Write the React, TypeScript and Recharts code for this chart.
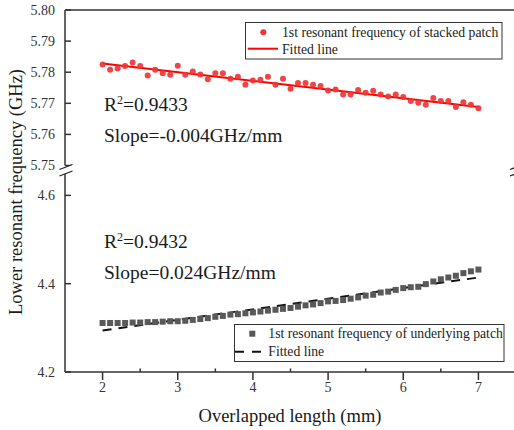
import React from 'react';
import { ComposedChart, Scatter, Line, XAxis, YAxis, ReferenceLine, Legend } from 'recharts';

const overlapMm = [
  2.0, 2.1, 2.2, 2.3, 2.4, 2.5, 2.6, 2.7, 2.8, 2.9,
  3.0, 3.1, 3.2, 3.3, 3.4, 3.5, 3.6, 3.7, 3.8, 3.9,
  4.0, 4.1, 4.2, 4.3, 4.4, 4.5, 4.6, 4.7, 4.8, 4.9,
  5.0, 5.1, 5.2, 5.3, 5.4, 5.5, 5.6, 5.7, 5.8, 5.9,
  6.0, 6.1, 6.2, 6.3, 6.4, 6.5, 6.6, 6.7, 6.8, 6.9,
  7.0,
];

// 1st resonant frequency of stacked patch (GHz)
const stackedGHz = [
  5.7825, 5.7808, 5.7812, 5.782, 5.7831, 5.782, 5.7789, 5.7808, 5.7797, 5.7792,
  5.7821, 5.7792, 5.7802, 5.7793, 5.7777, 5.7797, 5.7797, 5.7779, 5.7785, 5.776,
  5.7773, 5.7776, 5.7785, 5.776, 5.7779, 5.7747, 5.7765, 5.7765, 5.776, 5.7756,
  5.7741, 5.7744, 5.7728, 5.7728, 5.7743, 5.7734, 5.774, 5.7728, 5.7722, 5.7728,
  5.772, 5.7707, 5.7702, 5.7695, 5.7717, 5.7707, 5.7707, 5.7688, 5.7703, 5.7695,
  5.7684,
];

// 1st resonant frequency of underlying patch (GHz)
const underlyingGHz = [
  4.311, 4.311, 4.311, 4.311, 4.312, 4.312, 4.313, 4.313, 4.314, 4.315,
  4.315, 4.316, 4.318, 4.32, 4.322, 4.325, 4.327, 4.33, 4.331, 4.333,
  4.335, 4.337, 4.339, 4.341, 4.343, 4.345, 4.348, 4.351, 4.353, 4.356,
  4.36, 4.361, 4.363, 4.366, 4.369, 4.373, 4.375, 4.38, 4.382, 4.386,
  4.39, 4.392, 4.393, 4.399, 4.405, 4.41, 4.414, 4.418, 4.424, 4.428,
  4.432,
];

const fitX = [2, 7];
const stackedFit = [5.7828, 5.7688];
const underlyingFit = [4.294, 4.414];

const xTicks = [2, 2.5, 3, 3.5, 4, 4.5, 5, 5.5, 6, 6.5, 7, 7.5];
const upperTicks = [5.75, 5.76, 5.77, 5.78, 5.79, 5.8];
const lowerTicks = [4.2, 4.4, 4.6];

const stackedPts = overlapMm.map((x, i) => ({ x, y: stackedGHz[i] }));
const underlyingPts = overlapMm.map((x, i) => ({ x, y: underlyingGHz[i] }));
const stackedFitPts = fitX.map((x, i) => ({ x, y: stackedFit[i] }));
const underlyingFitPts = fitX.map((x, i) => ({ x, y: underlyingFit[i] }));

const AXIS = '#333';
const FONT = '"Liberation Serif", "Times New Roman", serif';

const YTick = ({ x, y, payload }: any) => (
  <g>
    <line x1={x} x2={x + 6} y1={y} y2={y} stroke={AXIS} strokeWidth={1.5} />
    <text x={x - 10} y={y} dy="0.355em" textAnchor="end" fontSize={14} fill="#333" fontFamily={FONT}>
      {payload.value.toFixed(payload.value > 5 ? 2 : 1)}
    </text>
  </g>
);

const XTick = ({ x, y, payload }: any) => {
  if (!Number.isInteger(payload.value)) {
    return <line x1={x} x2={x} y1={y} y2={y - 3.5} stroke={AXIS} strokeWidth={1.5} />;
  }
  return (
    <g>
      <line x1={x} x2={x} y1={y} y2={y + 8} stroke={AXIS} strokeWidth={1.5} />
      <text x={x} y={y + 10} dy="0.71em" textAnchor="middle" fontSize={14} fill="#333" fontFamily={FONT}>
        {payload.value}
      </text>
    </g>
  );
};

const Square = ({ cx, cy }: any) => <rect x={cx - 3} y={cy - 3} width={6} height={6} fill="#595959" />;
const Dot = ({ cx, cy }: any) => <circle cx={cx} cy={cy} r={3} fill="#ee3535" fillOpacity={0.92} />;

const StackedLegend = () => (
  <svg width={258} height={38} style={{ fontFamily: FONT }}>
    <rect x={0.5} y={0.5} width={256.5} height={36.5} fill="#fff" stroke={AXIS} strokeWidth={1} />
    <circle cx={18.3} cy={10.3} r={3} fill="#ee3535" />
    <text x={37} y={15} fontSize={13.7} fill="#222">1st resonant frequency of stacked patch</text>
    <line x1={2.7} x2={33} y1={26.7} y2={26.7} stroke="#ff0000" strokeWidth={2} />
    <text x={37} y={31.5} fontSize={13.7} fill="#222">Fitted line</text>
  </svg>
);

const UnderlyingLegend = () => (
  <svg width={271} height={38} style={{ fontFamily: FONT }}>
    <rect x={0.5} y={0.5} width={269.5} height={37} fill="#fff" stroke={AXIS} strokeWidth={1} />
    <rect x={15.3} y={6.7} width={6} height={6} fill="#595959" />
    <text x={34.3} y={14.3} fontSize={13.7} fill="#222">1st resonant frequency of underlying patch</text>
    <line x1={1} x2={29} y1={27.7} y2={27.7} stroke="#111" strokeWidth={2} strokeDasharray="9 8" />
    <text x={34.3} y={32.3} fontSize={13.7} fill="#222">Fitted line</text>
  </svg>
);

const BreakMark = ({ x }: { x: number }) => (
  <g>
    <polygon points={`${x - 6},169.5 ${x + 7},164.5 ${x + 7},171 ${x - 6},176`} fill="#fff" />
    <line x1={x - 6} y1={169.5} x2={x + 7} y2={164.5} stroke="#222" strokeWidth={1.3} />
    <line x1={x - 6} y1={176} x2={x + 7} y2={171} stroke="#222" strokeWidth={1.3} />
  </g>
);

export default function App() {
  return (
    <div
      style={{
        position: 'absolute',
        left: 0,
        top: 0,
        width: 514,
        height: 430,
        overflow: 'hidden',
        background: '#fff',
        fontFamily: FONT,
      }}
    >
      <div style={{ position: 'absolute', left: 0, top: 0 }}>
        <ComposedChart width={520} height={182} margin={{ top: 10, right: 4, bottom: 16.5, left: 10 }}>
          <XAxis type="number" dataKey="x" domain={[1.5, 7.5]} allowDataOverflow hide />
          <YAxis
            type="number"
            dataKey="y"
            width={55}
            domain={[5.75, 5.8]}
            allowDataOverflow
            ticks={upperTicks}
            interval={0}
            tickSize={0}
            tickMargin={0}
            tickLine={false}
            tick={<YTick />}
            axisLine={{ stroke: AXIS, strokeWidth: 1.5 }}
          />
          <ReferenceLine y={5.8} stroke={AXIS} strokeWidth={1.5} />
          <Scatter name="1st resonant frequency of stacked patch" data={stackedPts} shape={<Dot />} isAnimationActive={false} />
          <Line
            name="Fitted line"
            data={stackedFitPts}
            dataKey="y"
            type="linear"
            stroke="#ff0000"
            strokeWidth={2}
            dot={false}
            activeDot={false}
            isAnimationActive={false}
          />
          <Legend
            layout="vertical"
            align="center"
            verticalAlign="middle"
            content={<StackedLegend />}
            wrapperStyle={{ left: 245, top: 22, width: 258, height: 38 }}
          />
        </ComposedChart>
      </div>

      <div style={{ position: 'absolute', left: 0, top: 170 }}>
        <ComposedChart width={520} height={260} margin={{ top: 0, right: 4, bottom: 28, left: 10 }}>
          <XAxis
            type="number"
            dataKey="x"
            domain={[1.5, 7.5]}
            allowDataOverflow
            ticks={xTicks}
            interval={0}
            height={30}
            tickSize={0}
            tickMargin={0}
            tickLine={false}
            tick={<XTick />}
            axisLine={{ stroke: AXIS, strokeWidth: 1.5 }}
          />
          <YAxis
            type="number"
            dataKey="y"
            width={55}
            domain={[4.2, 4.6575]}
            allowDataOverflow
            ticks={lowerTicks}
            interval={0}
            tickSize={0}
            tickMargin={0}
            tickLine={false}
            tick={<YTick />}
            axisLine={{ stroke: AXIS, strokeWidth: 1.5 }}
          />
          <Scatter name="1st resonant frequency of underlying patch" data={underlyingPts} shape={<Square />} isAnimationActive={false} />
          <Line
            name="Fitted line"
            data={underlyingFitPts}
            dataKey="y"
            type="linear"
            stroke="#111"
            strokeWidth={2}
            strokeDasharray="9 7"
            dot={false}
            activeDot={false}
            isAnimationActive={false}
          />
          <Legend
            layout="vertical"
            align="center"
            verticalAlign="middle"
            content={<UnderlyingLegend />}
            wrapperStyle={{ left: 234, top: 154, width: 271, height: 38 }}
          />
        </ComposedChart>
      </div>

      <svg
        width={514}
        height={430}
        style={{ position: 'absolute', left: 0, top: 0, pointerEvents: 'none', fontFamily: FONT }}
      >
        <BreakMark x={65.5} />
        <BreakMark x={516} />
        <g fontSize={19.5} fill="#1a1a1a">
          <text x={104} y={111}>
            R<tspan dy={-7} fontSize={12}>2</tspan>
            <tspan dy={7}>=0.9433</tspan>
          </text>
          <text x={104} y={142}>Slope=-0.004GHz/mm</text>
          <text x={104} y={248}>
            R<tspan dy={-7} fontSize={12}>2</tspan>
            <tspan dy={7}>=0.9432</tspan>
          </text>
          <text x={104} y={279}>Slope=0.024GHz/mm</text>
        </g>
        <text x={290} y={421.5} textAnchor="middle" fontSize={18.5} fill="#1a1a1a">
          Overlapped length (mm)
        </text>
        <text transform="translate(22,192) rotate(-90)" textAnchor="middle" fontSize={18.5} fill="#1a1a1a">
          Lower resonant frequency (GHz)
        </text>
      </svg>
    </div>
  );
}
